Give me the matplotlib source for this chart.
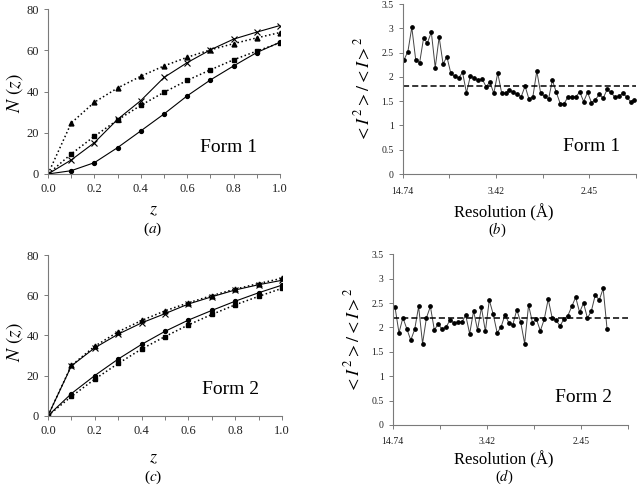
import numpy as np
import matplotlib
matplotlib.use('Agg')
import matplotlib.pyplot as plt

plt.rcParams['font.family'] = ['Liberation Serif', 'DejaVu Serif']
plt.rcParams['mathtext.fontset'] = 'stix'

# N(z) cumulative distributions
z = [0.0, 0.1, 0.2, 0.3, 0.4, 0.5, 0.6, 0.7, 0.8, 0.9, 1.0]

f1_cross = [0, 6.8, 15.2, 26.5, 35.6, 46.8, 54.0, 60.2, 65.4, 68.8, 72.0]
f1_circle = [0, 1.6, 5.5, 12.8, 20.9, 29.1, 37.9, 45.6, 52.4, 58.9, 63.9]
f1_triangle = [0, 24.7, 34.8, 41.7, 47.4, 52.4, 56.6, 60.2, 63.2, 66.0, 68.6]
f1_square = [0, 9.7, 18.3, 26.2, 33.3, 39.6, 45.4, 50.5, 55.4, 59.6, 63.6]

f2_cross = [0, 24.8, 33.8, 40.6, 46.2, 50.8, 55.6, 59.2, 62.6, 65.2, 67.4]
f2_circle = [0, 11.0, 20.0, 28.2, 35.5, 42.0, 47.6, 52.4, 57.0, 61.2, 65.0]
f2_triangle = [0, 25.0, 34.6, 41.8, 47.4, 52.2, 56.2, 59.8, 63.0, 65.8, 68.4]
f2_square = [0, 9.6, 18.2, 26.0, 33.2, 39.4, 45.2, 50.4, 55.2, 59.4, 63.4]

# <I^2>/<I>^2 per resolution bin
ratio_form1 = [2.35, 2.52, 3.02, 2.35, 2.29, 2.79, 2.70, 2.92, 2.19, 2.82,
               2.27, 2.41, 2.07, 2.01, 1.98, 2.09, 1.67, 2.02, 1.98, 1.93,
               1.96, 1.80, 1.89, 1.66, 2.08, 1.67, 1.66, 1.73, 1.68, 1.64,
               1.59, 1.81, 1.54, 1.59, 2.12, 1.66, 1.60, 1.54, 1.93, 1.68,
               1.45, 1.45, 1.59, 1.59, 1.59, 1.69, 1.49, 1.68, 1.47, 1.53,
               1.64, 1.56, 1.74, 1.68, 1.58, 1.60, 1.66, 1.59, 1.49, 1.52]
ratio_form2 = [2.41, 1.89, 2.20, 1.97, 1.74, 1.96, 2.43, 1.67, 2.20, 2.43,
               1.95, 2.07, 1.96, 2.01, 2.15, 2.09, 2.11, 2.11, 2.25, 1.87,
               2.34, 1.95, 2.41, 1.92, 2.56, 2.27, 1.89, 2.01, 2.26, 2.09,
               2.06, 2.36, 2.11, 1.67, 2.46, 2.10, 2.17, 1.93, 2.17, 2.58,
               2.20, 2.15, 2.03, 2.17, 2.24, 2.43, 2.62, 2.31, 2.50, 2.19,
               2.34, 2.67, 2.56, 2.80, 1.96]
mean_form1 = 1.81
mean_form2 = 2.19

res_labels = ['14.74', '', '3.42', '', '2.45', '']

W, H = 640, 495
fig = plt.figure(figsize=(6.4, 4.95), dpi=100)

def box(l, t, r, b):
    return [l / W, 1 - b / H, (r - l) / W, (b - t) / H]

spine_col = '#7a7a7a'
txt_col = '#222222'

def style(ax):
    for s in ['top', 'right']:
        ax.spines[s].set_visible(False)
    for s in ['left', 'bottom']:
        ax.spines[s].set_color(spine_col)
        ax.spines[s].set_linewidth(0.8)
    ax.tick_params(direction='out', length=3, width=0.7, color=spine_col,
                   labelcolor=txt_col)

def nz_panel(ax, cross, circle, tri, sq, form):
    ax.plot(z, tri, ':', color='black', lw=1.1, marker='^', ms=3.5)
    ax.plot(z, sq, ':', color='black', lw=1.1, marker='s', ms=3)
    ax.plot(z, cross, '-', color='black', lw=0.8, marker='x', ms=4, mew=0.8)
    ax.plot(z, circle, '-', color='black', lw=0.8, marker='o', ms=2.8)
    ax.set_xlim(0, 1.0)
    ax.set_ylim(0, 80)
    ax.set_xticks(np.arange(0, 1.01, 0.1), minor=True)
    ax.set_xticks([0.0, 0.2, 0.4, 0.6, 0.8, 1.0])
    ax.set_xticklabels(['0.0', '0.2', '0.4', '0.6', '0.8', '1.0'])
    ax.set_yticks([0, 20, 40, 60, 80])
    style(ax)
    ax.tick_params(which='minor', direction='out', length=3, width=0.7, color=spine_col)
    ax.tick_params(labelsize=9)
    ax.text(0.78, 0.16, form, transform=ax.transAxes, fontsize=14,
            ha='center', va='center')

def ratio_panel(ax, vals, mean, xl, form):
    x = np.arange(len(vals))
    ax.plot(x, vals, '-', color='#444444', lw=0.7, marker='o', ms=2.4,
            mfc='black', mec='black')
    ax.axhline(mean, color='black', lw=1.1, ls=(0, (4, 2)))
    ax.set_xlim(xl)
    ax.set_xticks(np.linspace(xl[0], xl[1], 6))
    ax.set_xticklabels(res_labels)
    ax.set_ylim(0, 3.5)
    ax.set_yticks([0, 0.5, 1, 1.5, 2, 2.5, 3, 3.5])
    ax.set_yticklabels(['0', '0.5', '1', '1.5', '2', '2.5', '3', '3.5'])
    style(ax)
    ax.tick_params(labelsize=7)
    ax.tick_params(axis='x', pad=6)
    ax.set_ylabel(r'$<I^{\,2}>/<I>^{2}$', fontsize=13, labelpad=6)
    ax.text(0.81, 0.16, form, transform=ax.transAxes, fontsize=14,
            ha='center', va='center')

ax_a = fig.add_axes(box(48, 9, 280, 174))
nz_panel(ax_a, f1_cross, f1_circle, f1_triangle, f1_square, 'Form 1')
ax_c = fig.add_axes(box(48, 255, 282, 415.7))
nz_panel(ax_c, f2_cross, f2_circle, f2_triangle, f2_square, 'Form 2')

ax_b = fig.add_axes(box(402.7, 4, 636, 174))
ratio_panel(ax_b, ratio_form1, mean_form1, (-0.33, 59.4), 'Form 1')
ax_d = fig.add_axes(box(392.7, 254.3, 628.3, 425))
ratio_panel(ax_d, ratio_form2, mean_form2, (-0.6, 59.4), 'Form 2')

for y in [93, 342]:
    fig.text(15 / W, 1 - y / H, r'$N\ (z)$', rotation=90, fontsize=14,
             ha='center', va='center')
for y in [210, 458]:
    fig.text(153 / W, 1 - y / H, r'$z$', fontsize=13, ha='center', va='center')
fig.text(153 / W, 1 - 229 / H, r'($a$)', fontsize=11, ha='center', va='center')
fig.text(153 / W, 1 - 477 / H, r'($c$)', fontsize=11, ha='center', va='center')
fig.text(504 / W, 1 - 213 / H, 'Resolution (Å)', fontsize=12, ha='center', va='center')
fig.text(497 / W, 1 - 230 / H, r'($b$)', fontsize=10.5, ha='center', va='center')
fig.text(504 / W, 1 - 460 / H, 'Resolution (Å)', fontsize=12, ha='center', va='center')
fig.text(504 / W, 1 - 477 / H, r'($d$)', fontsize=10.5, ha='center', va='center')

plt.savefig('out.png', dpi=100)
